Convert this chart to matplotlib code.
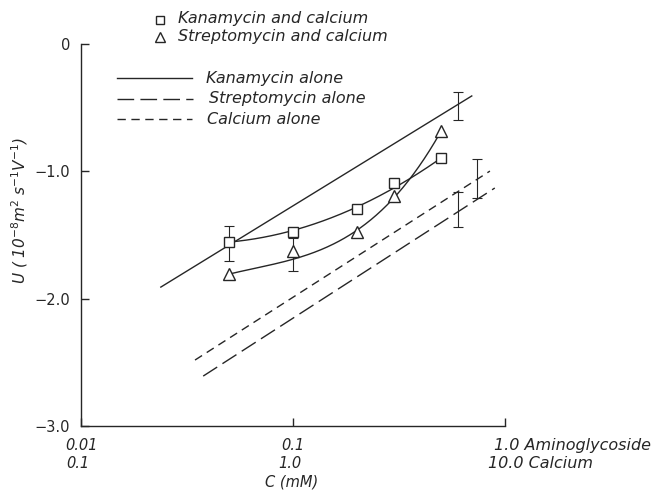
import matplotlib

matplotlib.use("Agg")
import matplotlib.pyplot as plt  # noqa: E402
import numpy as np  # noqa: E402
from matplotlib.lines import Line2D  # noqa: E402

INK = "#262626"
W, H = 662, 490

# aminoglycoside concentration (mM); calcium scale is x10
kan_ca_c = [0.05, 0.1, 0.2, 0.3, 0.5]
kan_ca_u = [-1.555, -1.477, -1.296, -1.092, -0.896]
strep_ca_c = [0.05, 0.1, 0.2, 0.3, 0.5]
strep_ca_u = [-1.807, -1.626, -1.477, -1.194, -0.683]

kan_alone_c = [0.0238, 0.697]
kan_alone_u = [-1.909, -0.408]
strep_alone_c = [0.0377, 0.895]
strep_alone_u = [-2.608, -1.131]
ca_alone_c = [0.0345, 0.849]
ca_alone_u = [-2.482, -0.998]

# error bars: (c, U, half-width)
err_kan_ca = (0.05, -1.567, 0.137)
err_strep_ca = (0.1, -1.654, 0.130)
err_kan_alone = (0.6, -0.487, 0.110)
err_strep_alone = (0.6, -1.300, 0.137)
err_ca_alone = (0.736, -1.057, 0.153)

y_ticks = [0.0, -1.0, -2.0, -3.0]
y_tick_labels = ["0", "\u22121.0", "\u22122.0", "\u22123.0"]

LONG = (12, 4.5)
SHORT = (6, 4)


def fx(px):
    return px / W


def fy(py):
    return 1 - py / H


fig = plt.figure(figsize=(W / 100, H / 100), dpi=100, facecolor="white")
# 0.01 sits at x=81px, one decade is ~212px; y=0 at 44px, y=-3 at 426px
dec = 212
right_px = 625
xmax = 10 ** (-2 + (right_px - 81) / dec)
ytop = 0.3
top_px = 44 - ytop * (426 - 44) / 3
ax = fig.add_axes([fx(81), fy(426), (right_px - 81) / W, (426 - top_px) / H])
ax.set_xscale("log")
ax.set_xlim(0.01, xmax)
ax.set_ylim(-3.0, ytop)

for s in ("top", "right"):
    ax.spines[s].set_visible(False)
for s in ("left", "bottom"):
    ax.spines[s].set_color(INK)
    ax.spines[s].set_linewidth(1.0)
ax.spines["left"].set_bounds(-3.0, 0.0)
ax.spines["bottom"].set_bounds(0.01, 1.0)

ax.set_yticks(y_ticks)
ax.set_yticklabels(y_tick_labels, fontsize=10.5, color=INK)
ax.set_xticks([0.01, 0.1, 1.0])
ax.set_xticklabels(["", "", ""])
ax.xaxis.set_minor_locator(matplotlib.ticker.NullLocator())
ax.tick_params(direction="in", length=6, width=1.0, color=INK, pad=8)

# straight reference lines
ax.plot(kan_alone_c, kan_alone_u, color=INK, lw=1.0)
l1, = ax.plot(strep_alone_c, strep_alone_u, color=INK, lw=1.0)
l1.set_dashes(LONG)
l2, = ax.plot(ca_alone_c, ca_alone_u, color=INK, lw=1.0)
l2.set_dashes(SHORT)

# smooth fitted curves through the mixtures, pinned at both ends
lk = np.log10(kan_ca_c)
pk = np.polyfit(lk, kan_ca_u, 2, w=[4, 1, 1, 1, 4])
xs = np.linspace(lk[0], lk[-1], 200)
ax.plot(10 ** xs, np.polyval(pk, xs), color=INK, lw=1.0)

ls = np.log10(strep_ca_c)
ps = np.polyfit(ls, strep_ca_u, 3, w=[4, 0.3, 1, 1, 4])
xs = np.linspace(ls[0], ls[-1], 200)
ax.plot(10 ** xs, np.polyval(ps, xs), color=INK, lw=1.0)

ax.plot(kan_ca_c, kan_ca_u, ls="none", marker="s", ms=6.5, mfc="white",
        mec=INK, mew=1.0)
ax.plot(strep_ca_c, strep_ca_u, ls="none", marker="^", ms=8, mfc="white",
        mec=INK, mew=1.0)

for c, u, e in (err_kan_ca, err_strep_ca, err_kan_alone, err_strep_alone,
                err_ca_alone):
    ax.errorbar([c], [u], yerr=[e], fmt="none", ecolor=INK, elinewidth=0.8,
                capsize=3.5, capthick=0.8, zorder=1)

# x tick labels, two scales
row1, row2 = -14, -27
for c, a, b in ((0.01, "0.01", "0.1"), (0.1, "0.1", "1.0")):
    ax.annotate(a, xy=(c, 0), xycoords=("data", "axes fraction"),
                xytext=(0, row1), textcoords="offset points", ha="center",
                va="center", fontsize=10.5, color=INK, style="italic")
    ax.annotate(b, xy=(c, 0), xycoords=("data", "axes fraction"),
                xytext=(-2, row2), textcoords="offset points", ha="center",
                va="center", fontsize=10.5, color=INK, style="italic")
ax.annotate("1.0 Aminoglycoside", xy=(1.0, 0), xycoords=("data", "axes fraction"),
            xytext=(-8, row1), textcoords="offset points", ha="left",
            va="center", fontsize=11.5, color=INK, style="italic")
ax.annotate("10.0 Calcium", xy=(1.0, 0), xycoords=("data", "axes fraction"),
            xytext=(-12, row2), textcoords="offset points", ha="left",
            va="center", fontsize=11.5, color=INK, style="italic")

fig.text(fx(292), fy(482), "C (mM)", ha="center", va="center", fontsize=10.5,
         color=INK, style="italic")
fig.text(fx(20), fy(210),
         r"U ( 10$^{-8}$m$^{2}$ s$^{-1}$V$^{-1}$)", rotation=90, ha="center",
         va="center", fontsize=11, color=INK, style="italic")

# legend
fig.add_artist(Line2D([fx(160)], [fy(20)], marker="s", ms=6, mfc="white",
                      mec=INK, mew=1.0, ls="none"))
fig.add_artist(Line2D([fx(160)], [fy(37)], marker="^", ms=7, mfc="white",
                      mec=INK, mew=1.0, ls="none"))
fig.add_artist(Line2D([fx(117), fx(192)], [fy(78), fy(78)], color=INK, lw=1.0))
leg_long = Line2D([fx(117), fx(193)], [fy(99), fy(99)], color=INK, lw=1.0)
leg_long.set_dashes(LONG)
fig.add_artist(leg_long)
leg_short = Line2D([fx(117), fx(192)], [fy(119), fy(119)], color=INK, lw=1.0)
leg_short.set_dashes(SHORT)
fig.add_artist(leg_short)

legend_txt = [
    (178, 19, "Kanamycin and calcium"),
    (178, 37, "Streptomycin and calcium"),
    (206, 78, "Kanamycin alone"),
    (209, 99, "Streptomycin alone"),
    (207, 119, "Calcium alone"),
]
for x, y, t in legend_txt:
    fig.text(fx(x), fy(y), t, ha="left", va="center", fontsize=11.5,
             color=INK, style="italic")

fig.savefig("out.png", dpi=100, facecolor="white")
